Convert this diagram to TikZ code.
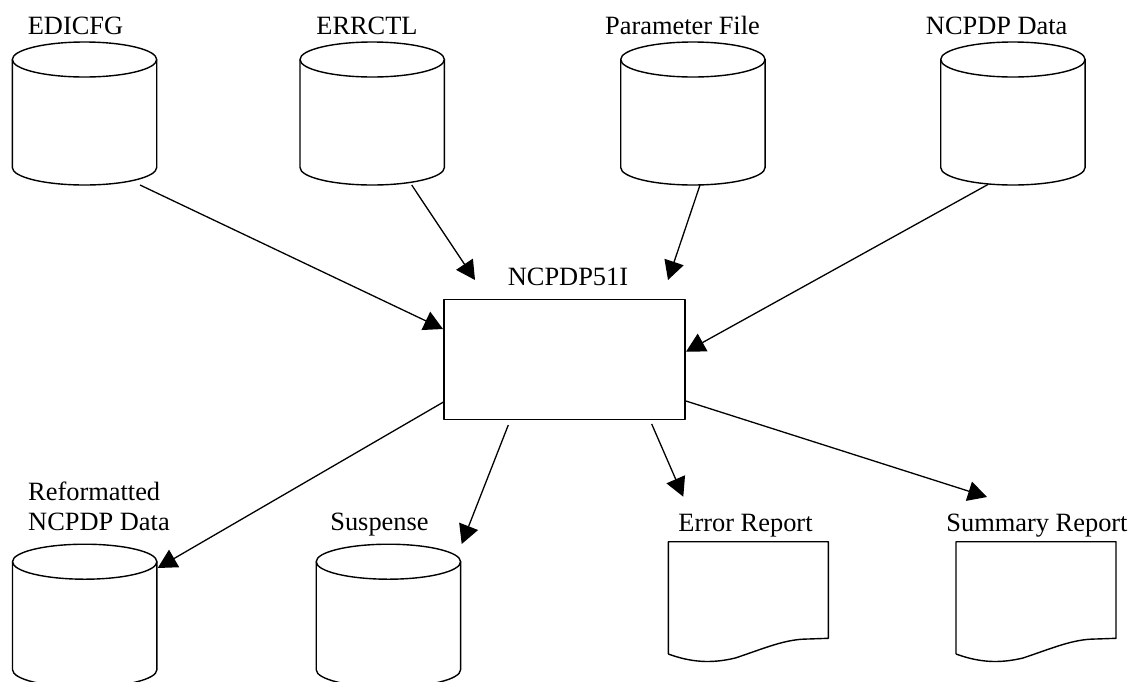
\documentclass[tikz,border=0pt]{standalone}
\usepackage{fontspec}
\setmainfont{Liberation Serif}
\usetikzlibrary{arrows.meta}
\tikzset{
  shapeline/.style={line width=1.4pt, line join=round},
  conn/.style={line width=1.3pt, -{Triangle[length=19pt,width=20pt]}},
  lbl/.style={inner sep=0pt, font=\fontsize{26.4}{30}\selectfont},
}
\newcommand{\dbcyl}[2]{%
  \draw[shapeline] ({#1-72.2},#2) -- ({#1-72.2},{#2+108})
     arc[start angle=180,end angle=360,x radius=72.2pt,y radius=17.5pt]
     -- ({#1+72.2},#2);
  \draw[shapeline] (#1,#2) ellipse[x radius=72.2pt,y radius=17.5pt];
}
\newcommand{\docshape}[2]{%
  \draw[shapeline] (#1,{#2+112.3}) -- (#1,#2) -- ({#1+160},#2) -- ({#1+160},{#2+96.6})
    -- ({#1+140},{#2+97.3})
    .. controls ({#1+117},{#2+97.3}) and ({#1+97},{#2+106.3}) .. ({#1+67},{#2+116.3})
    .. controls ({#1+42},{#2+122.3}) and ({#1+22},{#2+120.3}) .. (#1,{#2+112.3});
}
\begin{document}
\begin{tikzpicture}[x=1pt,y=-1pt]
\useasboundingbox (0,0) rectangle (1133,681);
% cylinders
\dbcyl{84.5}{59.5}
\dbcyl{372.2}{59.5}
\dbcyl{692.9}{59.5}
\dbcyl{1012.9}{59.5}
\dbcyl{84.7}{561.7}
\dbcyl{388.4}{561.7}
% documents
\docshape{668.3}{541.7}
\docshape{956}{541.7}
% process
\node[shapeline, draw, minimum width=241pt, minimum height=120pt, inner sep=0pt] (proc) at (564.5,359.3) {};
% labels
\node[lbl, anchor=base] (lEDI) at (75.5,34) {EDICFG};
\node[lbl, anchor=base] (lERR) at (367,34) {ERRCTL};
\node[lbl, anchor=base] (lPAR) at (682.5,34) {Parameter File};
\node[lbl, anchor=base] (lNCP) at (996.7,34) {NCPDP Data};
\node[lbl, anchor=base] (lPROC) at (568,285) {NCPDP51I};
\node[lbl, anchor=base west] (lREF1) at (28,500) {Reformatted};
\node[lbl, anchor=base west] (lREF2) at (28,530) {NCPDP Data};
\node[lbl, anchor=base] (lSUS) at (379.5,530) {Suspense};
\node[lbl, anchor=base] (lERP) at (745.5,531) {Error Report};
\node[lbl, anchor=base] (lSUM) at (1037,531) {Summary Report};
% connector end points
\coordinate (sEDI) at (140,185);
\coordinate (tEDI) at (443,329);
\coordinate (sERR) at (411.7,185);
\coordinate (tERR) at (475,280);
\coordinate (sPAR) at (700,185);
\coordinate (tPAR) at (668,280);
\coordinate (sNCP) at (988.3,184.3);
\coordinate (tNCP) at (686,351.7);
\coordinate (sREF) at (444,401.7);
\coordinate (tREF) at (157.7,568);
\coordinate (sSUS) at (508.3,425);
\coordinate (tSUS) at (461.7,544);
\coordinate (sERP) at (651.7,424);
\coordinate (tERP) at (683.3,496.7);
\coordinate (sSUM) at (685,400.7);
\coordinate (tSUM) at (987,497);
% connectors
\draw[conn] (sEDI) -- (tEDI);
\draw[conn] (sERR) -- (tERR);
\draw[conn] (sPAR) -- (tPAR);
\draw[conn] (sNCP) -- (tNCP);
\draw[conn] (sREF) -- (tREF);
\draw[conn] (sSUS) -- (tSUS);
\draw[conn] (sERP) -- (tERP);
\draw[conn] (sSUM) -- (tSUM);
\end{tikzpicture}
\end{document}
